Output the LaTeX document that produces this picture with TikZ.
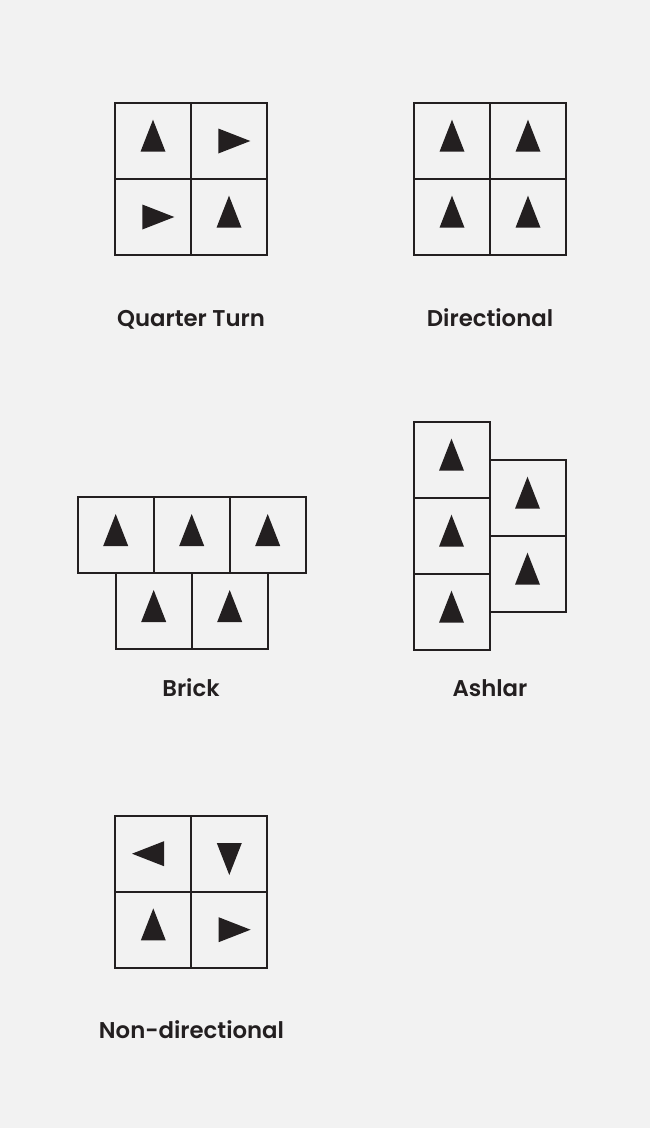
\documentclass[tikz,border=0pt]{standalone}
\usepackage{fontspec}
\setmainfont{Poppins}[BoldFont={* SemiBold}]
\usepackage{tikz}
\usetikzlibrary{positioning}
\definecolor{paper}{HTML}{F2F2F2}
\definecolor{ink}{HTML}{231F20}
\tikzset{
  tile/.style={draw=ink, line width=2pt, minimum size=76pt, inner sep=0pt, outer sep=0pt},
  caption/.style={anchor=base, text=ink, font=\bfseries\fontsize{22.8pt}{26pt}\selectfont},
  tri/.pic={\fill[ink] (0pt,21.3pt) -- (-12.5pt,-10.7pt) -- (12.5pt,-10.7pt) -- cycle;}
}
\begin{document}
\begin{tikzpicture}
            % Background
            \fill[paper] (0pt,0pt) rectangle (650pt,-1128pt);
            \useasboundingbox (0pt,0pt) rectangle (650pt,-1128pt);
            % Quarter turn
            \node[tile] (qa) at (153pt,-141pt) {};
            \node[tile, right=0pt of qa] (qb) {};
            \node[tile, below=0pt of qa] (qc) {};
            \node[tile, right=0pt of qc] (qd) {};
            \pic at (qa) {tri};
            \pic[rotate=-90] at (qb) {tri};
            \pic[rotate=-90] at (qc) {tri};
            \pic at (qd) {tri};
            \node[caption] (qlabel) at (191pt,-326pt) {Quarter Turn};
            % Directional
            \node[tile] (da) at (452pt,-141pt) {};
            \node[tile, right=0pt of da] (db) {};
            \node[tile, below=0pt of da] (dc) {};
            \node[tile, right=0pt of dc] (dd) {};
            \foreach \t in {da,db,dc,dd}
              \pic at (\t) {tri};
            \node[caption] (dlabel) at (490pt,-326pt) {Directional};
            % Brick
            \node[tile] (ba) at (115.7pt,-535.3pt) {};
            \node[tile, right=0pt of ba] (bb) {};
            \node[tile, right=0pt of bb] (bc) {};
            \node[tile] (bd) at (153.7pt,-611.3pt) {};
            \node[tile, right=0pt of bd] (be) {};
            \foreach \t in {ba,bb,bc,bd,be}
              \pic at (\t) {tri};
            \node[caption] (blabel) at (191pt,-696pt) {Brick};
            % Ashlar
            \node[tile] (aa) at (451.5pt,-460pt) {};
            \node[tile, below=0pt of aa] (ab) {};
            \node[tile, below=0pt of ab] (ac) {};
            \node[tile] (ad) at (527.5pt,-498pt) {};
            \node[tile, below=0pt of ad] (ae) {};
            \foreach \t in {aa,ab,ac,ad,ae}
              \pic at (\t) {tri};
            \node[caption] (alabel) at (490pt,-696pt) {Ashlar};
            % Non-directional
            \node[tile] (na) at (153.3pt,-853.7pt) {};
            \node[tile, right=0pt of na] (nb) {};
            \node[tile, below=0pt of na] (nc) {};
            \node[tile, right=0pt of nc] (nd) {};
            \pic[rotate=90] at (na) {tri};
            \pic[rotate=180] at (nb) {tri};
            \pic at (nc) {tri};
            \pic[rotate=-90] at (nd) {tri};
            \node[caption] (nlabel) at (191.5pt,-1038pt) {Non-directional};
\end{tikzpicture}
\end{document}
